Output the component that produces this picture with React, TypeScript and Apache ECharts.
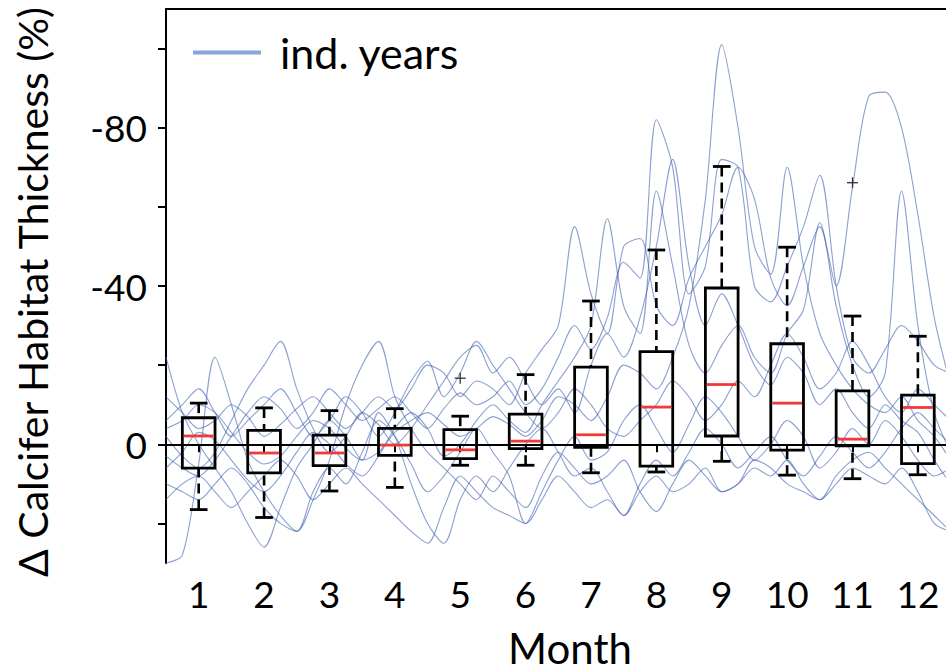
import React, { useEffect, useRef } from "react";
import * as echarts from "echarts";

const FONT = "Lato, 'Open Sans', sans-serif";

// sampling months of the individual-year curves (every quarter month)
const sampleMonths = Array.from({ length: 49 }, (_, i) => 0.5 + i * 0.25);

const year01 = [-4, -6,
  -10, -8, -3, 2,
  5, 3, -2, -6,
  -4, 1, 4, 2,
  -3, -6, -8, -5,
  -2, -4, -7, -5,
  -2, -6, -12, -10,
  -6, -12, -20, -18,
  -14, -22, -35, -62,
  -101, -80, -50, -43,
  -70, -45, -28, -20,
  -14, -10, -8, -12,
  -6, -2, 4];
const year02 = [3, 6,
  8, 4, -2, -8,
  -12, -9, -4, -8,
  -14, -10, -6, -9,
  -12, -8, -4, -9,
  -13, -10, -12, -16,
  -10, -14, -22, -30,
  -24, -32, -46, -42,
  -82, -70, -38, -45,
  -72, -70, -40, -36,
  -45, -55, -68, -40,
  -22, -18, -24, -30,
  -26, -20, -18];
const year03 = [-12, -8,
  -4, -6, -10, -7,
  -2, -5, -9, -12,
  -8, -4, -8, -12,
  -9, -14, -20, -18,
  -12, -16, -14, -10,
  -18, -24, -30, -55,
  -38, -28, -50, -52,
  -35, -30, -42, -50,
  -58, -70, -62, -42,
  -35, -45, -55, -40,
  -65, -88, -89, -80,
  -58, -32, -15];
const year04 = [6, 2,
  -3, -1, 4, 9,
  12, 8, 2, -3,
  0, 5, 8, 3,
  -4, -8, -4, 3,
  0, -6, -10, -6,
  -3, -10, -16, -22,
  -30, -57, -35, -28,
  -64, -45, -25, -18,
  -25, -30, -22, -18,
  -28, -34, -56, -35,
  -20, -12, -18, -64,
  -30, -8, 2];
const year05 = [-2, 3,
  6, 2, -6, -14,
  -20, -26, -14, -4,
  2, -2, -8, -5,
  0, -4, -10, -16,
  -22, -25, -18, -22,
  -16, -10, -14, -8,
  -20, -28, -22, -32,
  -50, -72, -45, -30,
  -38, -30, -20, -15,
  -22, -18, -10, -14,
  -8, -4, -10, -6,
  -3, 4, 10];
const year06 = [30, 28,
  5, -22, -10, 4,
  12, 18, 22, 12,
  6, 10, 2, -6,
  -2, 5, 12, 8,
  2, -4, 2, 8,
  20, 12, 4, -2,
  4, 2, -6, -10,
  -4, 2, -5, -12,
  -8, -2, 4, 0,
  -6, -2, 6, 2,
  -4, 0, -6, -2,
  4, 8, 6];
const year07 = [-22, -8,
  0, 6, 12, 20,
  26, 16, 6, 0,
  -6, -2, 4, -8,
  -2, 10, 20, 25,
  14, 8, 12, 6,
  0, -4, 2, 8,
  6, 12, 18, 10,
  4, 8, 2, -4,
  0, 6, 2, -2,
  4, 8, 3, -2,
  2, 6, 2, -4,
  -8, -4, 0];
const year08 = [10, 12,
  14, 10, 6, 10,
  16, 20, 22, 14,
  4, -10, -20, -26,
  -12, -4, 2, 6,
  10, 14, 8, 12,
  16, 8, 2, 6,
  10, 8, 4, 12,
  17, 10, 4, 8,
  12, 10, 6, 8,
  4, 10, 14, 8,
  4, 2, 6, 10,
  14, 18, 22];
const year09 = [-6, -10,
  -14, -8, -2, -6,
  -10, -14, -8, -2,
  -6, -12, -8, -2,
  -8, -16, -21, -12,
  -18, -26, -20, -14,
  -8, -4, -8, -14,
  -10, -4, -2, -6,
  -10, -16, -12, -6,
  -10, -16, -12, -20,
  -28, -22, -14, -18,
  -26, -20, -12, -8,
  -14, -10, -6];
const year10 = [14, 10,
  8, 12, 16, 12,
  8, 4, 8, 14,
  10, 6, 10, 14,
  18, 22, 25, 16,
  8, 12, 16, 18,
  20, 14, 8, 12,
  16, 14, 18, 12,
  8, 12, 10, 6,
  12, 10, 4, 6,
  10, 12, 14, 10,
  6, 8, 10, 6,
  12, 20, 22];
const years = [year01, year02, year03, year04, year05, year06, year07, year08, year09, year10];

// monthly box plots (inverted axis: negative = up)
const boxMonths = [1, 2, 3, 4, 5, 6, 7, 8, 9, 10, 11, 12];
const whiskerUpper = [-10.4, -9.2, -8.5, -9.0, -7.1, -17.6, -36.2, -49.1, -70.2, -49.8, -32.4, -27.3];
const boxUpper = [-6.7, -3.5, -2.3, -4.0, -3.7, -7.6, -19.5, -23.4, -39.5, -25.4, -13.5, -12.4];
const medians = [-2.1, 2.2, 2.2, 0.2, 1.4, -0.8, -2.4, -9.4, -15.1, -10.4, -1.3, -9.3];
const boxLower = [6.0, 7.2, 5.4, 2.8, 3.6, 1.1, 0.8, 5.5, -2.1, 1.5, 0.4, 4.9];
const whiskerLower = [16.5, 18.5, 11.8, 10.9, 5.3, 5.3, 7.2, 7.0, 4.3, 7.8, 8.7, 7.7];
const outlierMonths = [5, 11];
const outlierValues = [-16.7, -66.1];

const xTickValues = [1, 2, 3, 4, 5, 6, 7, 8, 9, 10, 11, 12];
const yTickValues = [-100, -80, -60, -40, -20, 0, 20];
const yLabelValues = [-80, -40, 0];

const renderBox = (_params: any, api: any) => {
  const m = api.value(0);
  const x = api.coord([m, 0])[0];
  const yWu = api.coord([m, api.value(1)])[1];
  const yBu = api.coord([m, api.value(2)])[1];
  const yMed = api.coord([m, api.value(3)])[1];
  const yBl = api.coord([m, api.value(4)])[1];
  const yWl = api.coord([m, api.value(5)])[1];
  const half = api.size([0.5, 0])[0] / 2;
  const cap = api.size([0.27, 0])[0] / 2;
  const dash = { stroke: "#000", lineWidth: 2.6, lineDash: [10, 6], fill: "none" };
  const solid = { stroke: "#000", lineWidth: 2.8, fill: "none" };
  return {
    type: "group",
    children: [
      { type: "line", shape: { x1: x, y1: yWu, x2: x, y2: yBu }, style: dash },
      { type: "line", shape: { x1: x, y1: yWl, x2: x, y2: yBl }, style: dash },
      { type: "line", shape: { x1: x - cap, y1: yWu, x2: x + cap, y2: yWu }, style: solid },
      { type: "line", shape: { x1: x - cap, y1: yWl, x2: x + cap, y2: yWl }, style: solid },
      {
        type: "rect",
        shape: { x: x - half, y: Math.min(yBu, yBl), width: half * 2, height: Math.abs(yBl - yBu) },
        style: solid,
      },
      { type: "line", shape: { x1: x - half + 1.5, y1: yMed, x2: x + half - 1.5, y2: yMed }, style: { stroke: "#f03a3a", lineWidth: 2.8 } },
    ],
  };
};

const renderOutlier = (_params: any, api: any) => {
  const p = api.coord([api.value(0), api.value(1)]);
  const s = 5.5;
  const st = { stroke: "#333", lineWidth: 1.3 };
  return {
    type: "group",
    children: [
      { type: "line", shape: { x1: p[0] - s, y1: p[1], x2: p[0] + s, y2: p[1] }, style: st },
      { type: "line", shape: { x1: p[0], y1: p[1] - s, x2: p[0], y2: p[1] + s }, style: st },
    ],
  };
};

export default function App() {
  const ref = useRef<HTMLDivElement>(null);
  useEffect(() => {
    if (!ref.current) return;
    const chart = echarts.init(ref.current, undefined, { renderer: "svg" });
    const lineSeries = years.map((ys) => ({
      name: "ind. years",
      type: "line",
      data: ys.map((v, i) => [sampleMonths[i], v]),
      smooth: 0.3,
      symbol: "none",
      color: "#4a6cb8",
      lineStyle: { color: "#4466b4", width: 1.1, opacity: 0.62 },
      z: 2,
      silent: true,
    }));
    chart.setOption({
      animation: false,
      backgroundColor: "#fff",
      grid: { left: 166, right: 0, top: 9, bottom: 109 },
      legend: {
        left: 188,
        top: 26,
        itemWidth: 68,
        itemHeight: 4,
        selectedMode: false,
        data: [{ name: "ind. years", icon: "rect", itemStyle: { color: "#88a4dc", opacity: 1 } }],
        textStyle: { fontFamily: FONT, fontSize: 43, color: "#000", padding: [0, 0, 0, 14] },
      },
      xAxis: [
        {
          type: "value",
          min: 0.5,
          max: 12.43,
          position: "bottom",
          splitLine: { show: false },
          axisLine: { show: true, lineStyle: { color: "#000", width: 2 } },
          axisTick: { show: true, customValues: xTickValues, length: 8, lineStyle: { color: "#000", width: 2 } },
          axisLabel: { customValues: xTickValues, fontFamily: FONT, fontSize: 37, color: "#000", margin: 12 },
        },
        {
          type: "value",
          min: 0.5,
          max: 12.43,
          position: "top",
          splitLine: { show: false },
          axisLine: { show: true, lineStyle: { color: "#000", width: 2 } },
          axisTick: { show: false },
          axisLabel: { show: false },
        },
      ],
      yAxis: {
        type: "value",
        inverse: true,
        min: -110,
        max: 30,
        splitLine: { show: false },
        axisLine: { show: true, lineStyle: { color: "#000", width: 2 } },
        axisTick: { show: true, customValues: yTickValues, length: 8, lineStyle: { color: "#000", width: 2 } },
        axisLabel: { customValues: yLabelValues, fontFamily: FONT, fontSize: 37, color: "#000", margin: 19 },
      },
      graphic: [
        {
          type: "text",
          x: 32,
          y: 292,
          rotation: Math.PI / 2,
          style: {
            text: "Δ Calcifer Habitat Thickness (%)",
            fontFamily: FONT,
            fontSize: 41,
            fill: "#000",
            align: "center",
            verticalAlign: "middle",
          },
        },
        {
          type: "text",
          x: 570,
          y: 648,
          style: { text: "Month", fontFamily: FONT, fontSize: 42, fill: "#000", align: "center", verticalAlign: "middle" },
        },
      ],
      series: [
        ...lineSeries,
        {
          name: "boxes",
          type: "custom",
          renderItem: renderBox,
          encode: { x: 0, y: [1, 2, 3, 4, 5] },
          data: boxMonths.map((m, i) => [m, whiskerUpper[i], boxUpper[i], medians[i], boxLower[i], whiskerLower[i]]),
          z: 5,
          silent: true,
          markLine: {
            silent: true,
            symbol: "none",
            label: { show: false },
            lineStyle: { color: "#000", width: 2, type: "solid" },
            data: [{ yAxis: 0 }],
            z: 4,
          },
        },
        {
          name: "outliers",
          type: "custom",
          renderItem: renderOutlier,
          encode: { x: 0, y: 1 },
          data: outlierMonths.map((m, i) => [m, outlierValues[i]]),
          z: 6,
          silent: true,
        },
      ],
    });
    return () => chart.dispose();
  }, []);
  return <div ref={ref} style={{ position: "absolute", left: 0, top: 0, width: 946, height: 672 }} />;
}
